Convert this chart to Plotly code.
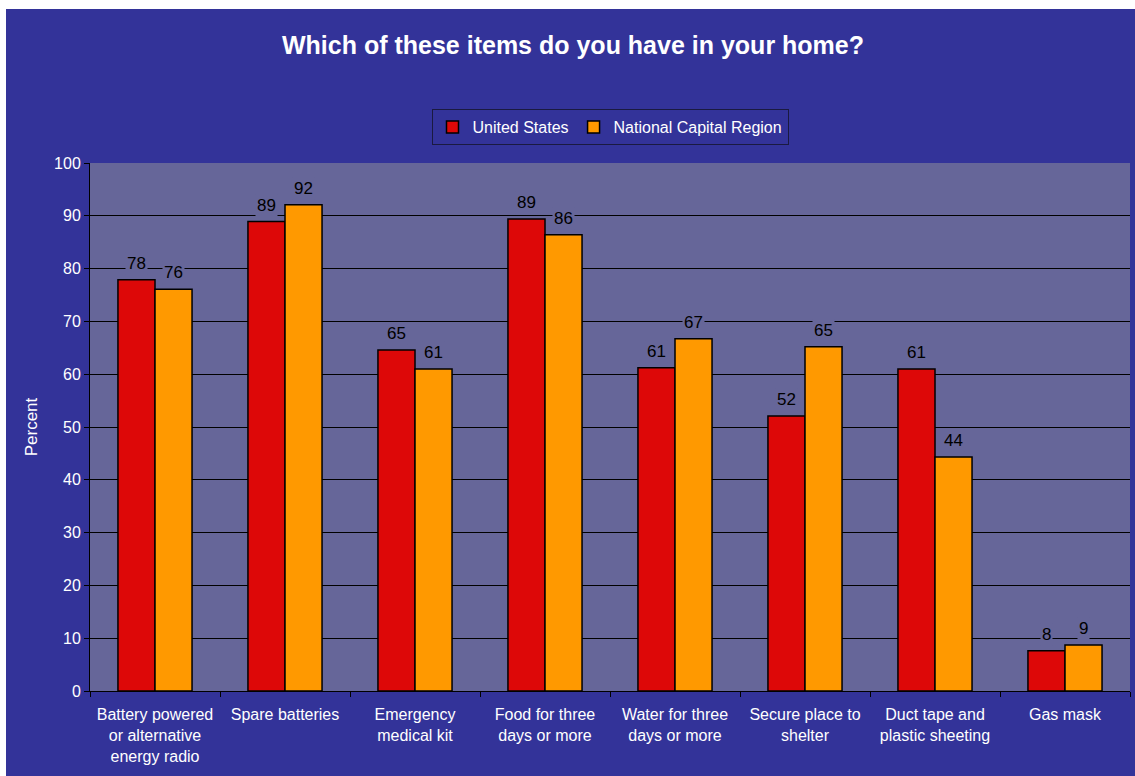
import plotly.graph_objects as go

categories = [
    "Battery powered<br>or alternative<br>energy radio",
    "Spare batteries",
    "Emergency<br>medical kit",
    "Food for three<br>days or more",
    "Water for three<br>days or more",
    "Secure place to<br>shelter",
    "Duct tape and<br>plastic sheeting",
    "Gas mask",
]
us_values = [77.9, 88.9, 64.6, 89.4, 61.2, 52.1, 61.0, 7.6]
ncr_values = [76.1, 92.1, 61.0, 86.4, 66.7, 65.2, 44.3, 8.7]
series_names = ["United States", "National Capital Region"]
y_ticks = [0, 10, 20, 30, 40, 50, 60, 70, 80, 90, 100]

FONT = "Arial, Liberation Sans, sans-serif"
BLUE = "#333399"
PLOT = "#666699"
RED = "#DD0808"
ORANGE = "#FF9900"

fig = go.Figure()
for name, vals, col in [(series_names[0], us_values, RED), (series_names[1], ncr_values, ORANGE)]:
    fig.add_trace(go.Bar(
        name=name, x=categories, y=vals,
        marker=dict(color=col, line=dict(color="black", width=1.5)),
    ))

annotations = []
for vals, shift in [(us_values, -18.5), (ncr_values, 18.5)]:
    for c, v in zip(categories, vals):
        annotations.append(dict(
            x=c, y=v, xref="x", yref="y", text=f"{v:.0f}", showarrow=False,
            xshift=shift, yanchor="bottom", yshift=5,
            bgcolor=PLOT, borderpad=1,
            font=dict(family=FONT, size=17, color="black"),
        ))

W, H, L, T = 1040, 528, 90, 163
fig.update_layout(
    width=1135, height=776,
    margin=dict(l=L, r=5, t=T, b=85),
    paper_bgcolor="white",
    plot_bgcolor="rgba(0,0,0,0)",
    barmode="group", bargap=0.43, bargroupgap=0,
    font=dict(family=FONT, size=16, color="white"),
    title=dict(text="<b>Which of these items do you have in your home?</b>",
               x=573 / 1135, xref="container", xanchor="center",
               y=1 - 45 / 776, yref="container", yanchor="middle",
               font=dict(family=FONT, size=25, color="white")),
    legend=dict(orientation="h", x=0.5, xanchor="center",
                y=(T + H - 109) / H, yanchor="top",
                bgcolor=BLUE, bordercolor="#1a1a40", borderwidth=1,
                font=dict(family=FONT, size=16, color="white"),
                itemwidth=30, tracegroupgap=0),
    shapes=[
        dict(type="rect", xref="paper", yref="paper", layer="below",
             x0=(6 - L) / W, x1=1.02, y0=-0.2, y1=(T + H - 9) / H,
             fillcolor=BLUE, line=dict(width=0)),
        dict(type="rect", xref="paper", yref="paper", layer="below",
             x0=0, x1=1, y0=0, y1=1, fillcolor=PLOT, line=dict(width=0)),
    ],
    annotations=annotations,
    xaxis=dict(showline=True, linecolor="black", linewidth=1,
               ticks="outside", tickson="boundaries", ticklen=5, tickcolor="black",
               ticklabelstandoff=9,
               tickfont=dict(family=FONT, size=16, color="white")),
    yaxis=dict(range=[0, 100], tickvals=y_ticks, showline=True, linecolor="black", linewidth=1,
               ticks="outside", ticklen=5, tickcolor="black",
               showgrid=True, gridcolor="black", gridwidth=1, zeroline=False,
               tickfont=dict(family=FONT, size=16, color="white"),
               title=dict(text="Percent", standoff=12,
                          font=dict(family=FONT, size=17, color="white"))),
)

fig.write_html("out.html")
